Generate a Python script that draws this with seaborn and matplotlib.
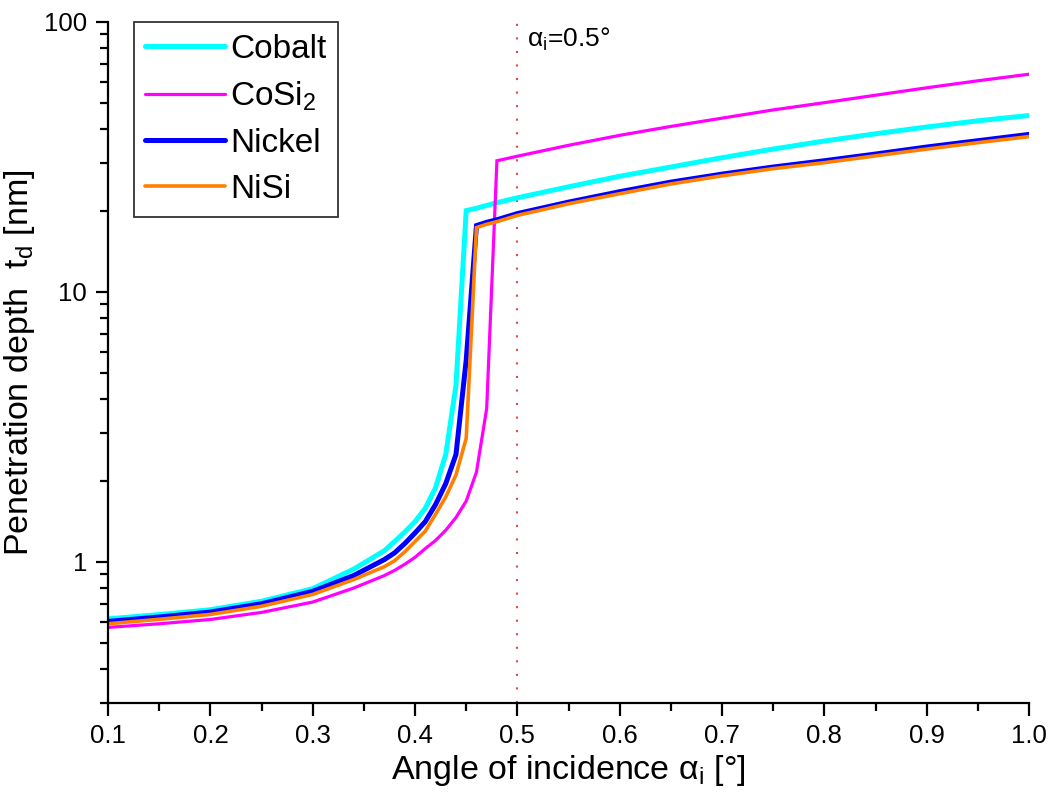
import numpy as np
import pandas as pd
import matplotlib
matplotlib.use("Agg")
import matplotlib.pyplot as plt
from matplotlib.lines import Line2D
import seaborn as sns

# ---- data ----
angle = [0.10, 0.15, 0.20, 0.25, 0.30, 0.34, 0.37, 0.38, 0.39, 0.40, 0.41, 0.42,
         0.43, 0.44, 0.45, 0.46, 0.47, 0.48, 0.50, 0.55, 0.60, 0.65, 0.70, 0.75,
         0.80, 0.85, 0.90, 0.95, 1.00]

cobalt = [0.615, 0.638, 0.665, 0.715, 0.796, 0.94, 1.10, 1.19, 1.29, 1.41, 1.58, 1.88,
          2.5, 4.5, 20.0, 20.4, 20.9, 21.4, 22.3, 24.5, 26.8, 29.0, 31.4, 33.8,
          36.2, 38.5, 40.8, 43.0, 45.0]
cosi2 = [0.572, 0.59, 0.612, 0.65, 0.71, 0.80, 0.89, 0.93, 0.98, 1.04, 1.12, 1.20,
         1.31, 1.46, 1.68, 2.15, 3.7, 30.6, 31.8, 34.9, 38.0, 41.0, 44.0, 47.2,
         50.2, 53.5, 57.0, 60.5, 64.0]
nickel = [0.602, 0.625, 0.652, 0.70, 0.778, 0.89, 1.02, 1.08, 1.17, 1.28, 1.41, 1.63,
          1.95, 2.5, 5.6, 17.6, 18.1, 18.5, 19.5, 21.5, 23.5, 25.5, 27.3, 29.0,
          30.6, 32.4, 34.4, 36.3, 38.3]
nisi = [0.59, 0.613, 0.639, 0.685, 0.758, 0.86, 0.96, 1.01, 1.09, 1.19, 1.30, 1.50,
        1.74, 2.1, 2.87, 17.3, 17.8, 18.2, 19.2, 21.2, 23.1, 25.1, 26.9, 28.6,
        30.1, 31.9, 33.8, 35.7, 37.6]

series_names = ["Cobalt", "CoSi$_\\mathregular{2}$", "Nickel", "NiSi"]
series_values = [cobalt, cosi2, nickel, nisi]
colors = ["#00FFFF", "#FF00FF", "#0000FF", "#FF8000"]
widths = [3.6, 2.3, 3.6, 2.6]

x_ticks = [0.1, 0.2, 0.3, 0.4, 0.5, 0.6, 0.7, 0.8, 0.9, 1.0]
x_ticklabels = ["0.1", "0.2", "0.3", "0.4", "0.5", "0.6", "0.7", "0.8", "0.9", "1.0"]
y_ticks = [1, 10, 100]
y_ticklabels = ["1", "10", "100"]
marker_angle = 0.5

# ---- long-form table ----
df = pd.concat(
    [pd.DataFrame({"angle": angle, "depth": vals, "material": name})
     for name, vals in zip(series_names, series_values)],
    ignore_index=True,
)

sns.set_style("ticks")
plt.rcParams["font.family"] = ["Liberation Sans", "DejaVu Sans"]
plt.rcParams["mathtext.default"] = "regular"
plt.rcParams["text.color"] = "black"
plt.rcParams["axes.labelcolor"] = "black"
plt.rcParams["xtick.color"] = "black"
plt.rcParams["ytick.color"] = "black"

fig = plt.figure(figsize=(10.52, 8.10), dpi=100)
ax = fig.add_axes([0.1027, 0.132, 0.8755, 0.841])

sns.lineplot(data=df, x="angle", y="depth", hue="material", hue_order=series_names,
             palette=colors, ax=ax, legend=False, sort=False, estimator=None)
for line, lw in zip(ax.get_lines(), widths):
    line.set_linewidth(lw)
    line.set_solid_joinstyle("miter")

ax.axvline(marker_angle, color="#e04848", lw=1.5, linestyle=(0, (1.0, 5.5)), zorder=0)
ax.text(0.509, 86, "α$_\\mathregular{i}$=0.5°", fontsize=19, va="center", ha="left",
        color="black")

ax.set_yscale("log")
ax.set_xlim(0.1, 1.0)
ax.set_ylim(0.3, 100)
ax.set_xticks(x_ticks)
ax.set_xticklabels(x_ticklabels)
ax.set_xticks(np.arange(0.15, 1.0, 0.1), minor=True)
ax.set_yticks(y_ticks)
ax.set_yticklabels(y_ticklabels)
ax.yaxis.set_minor_locator(matplotlib.ticker.LogLocator(base=10, subs=np.arange(2, 10)))
ax.yaxis.set_minor_formatter(matplotlib.ticker.NullFormatter())

ax.tick_params(axis="both", which="major", length=9, width=1.6, labelsize=18.5,
               direction="out", color="black", labelcolor="black", pad=6)
ax.tick_params(axis="both", which="minor", length=5.5, width=1.6, direction="out",
               color="black")
for s in ["left", "bottom"]:
    ax.spines[s].set_linewidth(1.6)
    ax.spines[s].set_color("black")
sns.despine(ax=ax)

ax.set_xlabel("Angle of incidence α$_\\mathregular{i}$ [°]", fontsize=24.5, labelpad=4,
              color="black")
ax.set_ylabel("Penetration depth  t$_\\mathregular{d}$ [nm]", fontsize=24.5, labelpad=5,
              color="black")

handles = [Line2D([], [], color=c, lw=w) for c, w in zip(colors, widths)]
leg = ax.legend(handles, series_names, loc="upper left", bbox_to_anchor=(0.028, 1.0),
                fontsize=24, frameon=True, fancybox=False, borderaxespad=0.0,
                handlelength=2.4, handletextpad=0.15, labelspacing=0.45,
                borderpad=0.35)
leg.get_frame().set_edgecolor("black")
leg.get_frame().set_linewidth(1.3)
for t in leg.get_texts():
    t.set_color("black")

fig.savefig("out.png", dpi=100)
